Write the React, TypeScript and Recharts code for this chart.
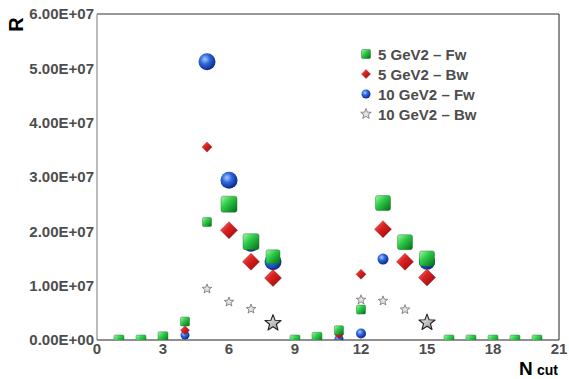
import React from "react";
import {
  ScatterChart,
  Scatter,
  XAxis,
  YAxis,
  ReferenceLine,
} from "recharts";

// N_cut values 1..20
const nCut = [1, 2, 3, 4, 5, 6, 7, 8, 9, 10, 11, 12, 13, 14, 15, 16, 17, 18, 19, 20];

const fw5 = [0, 0, 0.06e7, 0.34e7, 2.17e7, 2.5e7, 1.81e7, 1.53e7, 0, 0.05e7, 0.18e7, 0.56e7, 2.52e7, 1.8e7, 1.5e7, 0, 0, 0, 0, 0];
const bw5 = [null, null, 0.02e7, 0.18e7, 3.55e7, 2.02e7, 1.44e7, 1.14e7, null, 0.02e7, 0.1e7, 1.21e7, 2.04e7, 1.44e7, 1.15e7, null, null, null, null, null];
const fw10 = [null, null, null, 0.09e7, 5.12e7, 2.94e7, 1.77e7, 1.44e7, null, null, 0.02e7, 0.12e7, 1.49e7, null, 1.44e7, null, null, null, null, null];
const bw10 = [null, null, null, null, 0.94e7, 0.7e7, 0.57e7, 0.31e7, null, null, null, 0.74e7, 0.72e7, 0.56e7, 0.32e7, null, null, null, null, null];

const yTicks = [0, 1e7, 2e7, 3e7, 4e7, 5e7, 6e7];
const xTicks = [0, 3, 6, 9, 12, 15, 18, 21];

const seriesNames = ["5 GeV2 – Fw", "5 GeV2 – Bw", "10 GeV2 – Fw", "10 GeV2 – Bw"];

// marker sizes (px) per N_cut, styling only
const sizeFw5 = [10, 10, 10, 9, 9, 16, 16, 14, 10, 10, 9, 9, 15, 15, 15, 10, 10, 10, 10, 10];
const sizeBw5 = [9, 9, 9, 9, 10, 17, 17, 17, 9, 9, 9, 10, 17, 17, 17, 9, 9, 9, 9, 9];
const sizeFw10 = [9, 9, 9, 9, 17, 17, 16, 17, 9, 9, 9, 10, 11, 9, 16, 9, 9, 9, 9, 9];
const sizeBw10 = [9, 9, 9, 9, 10, 10, 10, 17, 9, 9, 9, 10, 10, 10, 17, 9, 9, 9, 9, 9];

const toPoints = (vals: (number | null)[]) =>
  nCut.map((x, i) => ({ x, y: vals[i] })).filter((p) => p.y !== null);

const sciFormat = (v: number) => {
  const [m, e] = v.toExponential(2).split("e");
  const n = Number(e);
  return `${m}E${n < 0 ? "-" : "+"}${String(Math.abs(n)).padStart(2, "0")}`;
};

const FONT = "'Liberation Sans', Arial, sans-serif";

const starPath = (cx: number, cy: number, r: number) => {
  const pts: string[] = [];
  for (let i = 0; i < 10; i++) {
    const rr = i % 2 === 0 ? r : r * 0.42;
    const a = -Math.PI / 2 + (i * Math.PI) / 5;
    pts.push(`${cx + rr * Math.cos(a)},${cy + rr * Math.sin(a)}`);
  }
  return `M${pts.join("L")}Z`;
};

type Kind = "square" | "diamond" | "sphere" | "star";

const Marker = ({ cx, cy, kind, size }: { cx: number; cy: number; kind: Kind; size: number }) => {
  const h = size / 2;
  if (kind === "square") {
    return <rect x={cx - h} y={cy - h} width={size} height={size} rx={size * 0.14} fill="url(#gSq)" stroke="#0b6a1c" strokeWidth={0.4} />;
  }
  if (kind === "diamond") {
    return (
      <polygon
        points={`${cx},${cy - h} ${cx + h},${cy} ${cx},${cy + h} ${cx - h},${cy}`}
        fill="url(#gDi)"
        stroke="#9a1010"
        strokeWidth={0.4}
        strokeLinejoin="round"
      />
    );
  }
  if (kind === "sphere") {
    return <circle cx={cx} cy={cy} r={h} fill="url(#gSp)" />;
  }
  const big = size > 12;
  return (
    <path
      d={starPath(cx, cy, h)}
      fill={big ? "url(#gSt)" : "#e4e4e4"}
      stroke={big ? "#222" : "#707070"}
      strokeWidth={big ? 1.1 : 0.8}
      strokeLinejoin="round"
    />
  );
};

const makeShape = (kind: Kind, sizes: number[]) => (props: any) => {
  const { cx, cy, payload } = props;
  if (cx == null || cy == null) return <g />;
  const size = sizes[nCut.indexOf(payload.x)] ?? 9;
  return <Marker cx={cx} cy={cy} kind={kind} size={size} />;
};

const legendKinds: Kind[] = ["square", "diamond", "sphere", "star"];

const LegendBox = () => (
  <div
    style={{
      position: "absolute",
      left: 357,
      top: 44,
      fontFamily: FONT,
      fontWeight: "bold",
      fontSize: 15,
      color: "#4d4d4d",
    }}
  >
    {seriesNames.map((name, i) => (
      <div key={name} style={{ display: "flex", alignItems: "center", height: 20 }}>
        <svg width={17} height={20} style={{ marginRight: 4 }}>
          <Marker cx={9} cy={10} kind={legendKinds[i]} size={i === 3 ? 11 : 9} />
        </svg>
        <span>{name}</span>
      </div>
    ))}
  </div>
);

const Gradients = () => (
  <svg width={0} height={0} style={{ position: "absolute" }}>
    <defs>
      <linearGradient id="gSq" x1="0" y1="0" x2="1" y2="1">
        <stop offset="0%" stopColor="#a8f7a8" />
        <stop offset="40%" stopColor="#2fcc4a" />
        <stop offset="100%" stopColor="#046a18" />
      </linearGradient>
      <linearGradient id="gDi" x1="0" y1="0" x2="1" y2="1">
        <stop offset="0%" stopColor="#ff8080" />
        <stop offset="40%" stopColor="#dd2222" />
        <stop offset="100%" stopColor="#8a0808" />
      </linearGradient>
      <radialGradient id="gSp" cx="38%" cy="35%" r="65%">
        <stop offset="0%" stopColor="#a9c8ff" />
        <stop offset="45%" stopColor="#2f66dc" />
        <stop offset="100%" stopColor="#0b2a8a" />
      </radialGradient>
      <linearGradient id="gSt" x1="0" y1="0" x2="1" y2="1">
        <stop offset="0%" stopColor="#ffffff" />
        <stop offset="100%" stopColor="#8a8a8a" />
      </linearGradient>
    </defs>
  </svg>
);

const App = () => {
  return (
    <div style={{ position: "absolute", left: 0, top: 0, width: 569, height: 379, background: "#fff" }}>
      <Gradients />
      <ScatterChart width={569} height={379} margin={{ top: 14, right: 10, bottom: 9, left: 8 }}>
        <XAxis
          dataKey="x"
          type="number"
          domain={[0, 21]}
          ticks={xTicks}
          allowDataOverflow
          stroke="#222"
          tickLine={false}
          tickSize={0}
          tickMargin={3}
          height={30}
          tick={{ fill: "#4d4d4d", fontSize: 15, fontWeight: "bold", fontFamily: FONT }}
        />
        <YAxis
          dataKey="y"
          type="number"
          domain={[0, 6e7]}
          ticks={yTicks}
          allowDataOverflow
          stroke="#777"
          tickLine={false}
          tickSize={0}
          tickMargin={3}
          width={89}
          tickFormatter={sciFormat}
          tick={{ fill: "#4d4d4d", fontSize: 15, fontWeight: "bold", fontFamily: FONT }}
        />
        <ReferenceLine y={6e7} stroke="#333" />
        <ReferenceLine x={21} stroke="#222" />
        <Scatter name={seriesNames[2]} data={toPoints(fw10)} shape={makeShape("sphere", sizeFw10)} isAnimationActive={false} />
        <Scatter name={seriesNames[1]} data={toPoints(bw5)} shape={makeShape("diamond", sizeBw5)} isAnimationActive={false} />
        <Scatter name={seriesNames[0]} data={toPoints(fw5)} shape={makeShape("square", sizeFw5)} isAnimationActive={false} />
        <Scatter name={seriesNames[3]} data={toPoints(bw10)} shape={makeShape("star", sizeBw10)} isAnimationActive={false} />
      </ScatterChart>
      <LegendBox />
      <svg width={569} height={379} style={{ position: "absolute", left: 0, top: 0, pointerEvents: "none" }}>
        <text
          transform="translate(23,24.5) rotate(-90)"
          textAnchor="middle"
          fontFamily={FONT}
          fontWeight="bold"
          fontSize={20}
          fill="#000"
        >
          R
        </text>
        <text x={519} y={375} fontFamily={FONT} fontWeight="bold" fontSize={19} fill="#000">
          N
        </text>
        <text x={537} y={375} fontFamily={FONT} fontWeight="bold" fontSize={14} fill="#000">
          cut
        </text>
      </svg>
    </div>
  );
};

export default App;
